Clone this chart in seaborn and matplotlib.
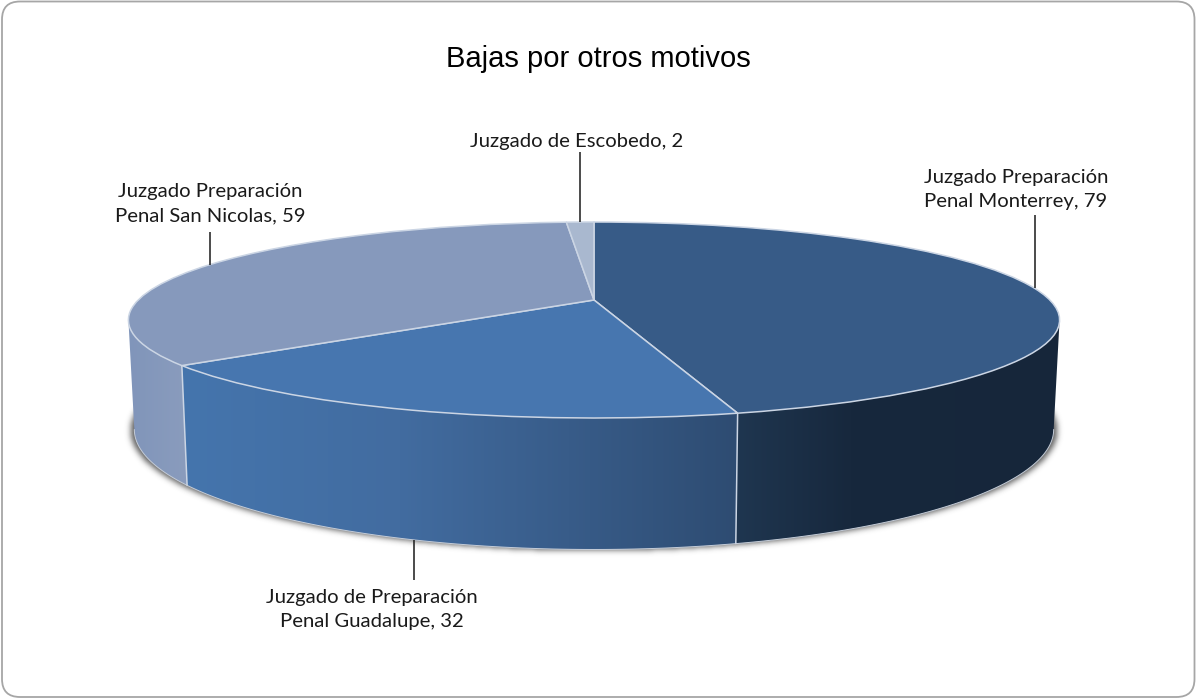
import numpy as np
import matplotlib
matplotlib.use("Agg")
import matplotlib.pyplot as plt
import seaborn as sns
from matplotlib.patches import FancyBboxPatch, Polygon
from matplotlib.path import Path
from matplotlib.transforms import Transform

# ---- data ----
categories = ["Juzgado Preparación\nPenal Monterrey", "Juzgado de Preparación\nPenal Guadalupe",
              "Juzgado Preparación\nPenal San Nicolas", "Juzgado de Escobedo"]
values = [79, 32, 59, 2]
top_colors = ["#375B87", "#4776AF", "#8699BC", "#A9B8CF"]
title = "Bajas por otros motivos"

# ---- style / layout (pixels) ----
W, H = 1197, 699
EDGE = "#CBD5E4"
CX, TOP_CY, TOP_SX, TOP_SY = 594.0, 300.0, 455.8, 93.9
BOT_CY, BOT_SX, BOT_SY = 405.0, 450.0, 115.0
K = 0.204
wall_stops = {
    0: ([737, 850, 1060], ["#1F3650", "#17283D", "#16263A"]),
    1: ([182, 400, 737], ["#4575AD", "#426CA0", "#2E4C72"]),
    2: ([129, 187], ["#8095BA", "#8A9CBD"]),
}
label_pos = [(1016, 189, 215, "top"), (372, 609.5, 580, "bottom"),
             (210, 204, 232, "top"), (577, 141, 152, "top")]

sns.set_theme(style="white")
plt.rcParams["font.family"] = ["Lato", "DejaVu Sans"]


class Perspective(Transform):
    """Maps the unit-circle pie to a tilted disc, in pixel coordinates."""
    input_dims = output_dims = 2
    is_separable = False
    has_inverse = False

    def __init__(self, cy, sx, sy):
        super().__init__()
        self.cy, self.sx, self.sy = cy, sx, sy

    def transform_non_affine(self, v):
        v = np.asarray(v, float)
        w = 1 + K * v[:, 1]
        return np.column_stack([CX + self.sx * v[:, 0] / w, self.cy - self.sy * v[:, 1] / w])


top = Perspective(TOP_CY, TOP_SX, TOP_SY)
bottom = Perspective(BOT_CY, BOT_SX, BOT_SY)


def unit(deg_ccw):
    t = np.radians(deg_ccw)
    return np.column_stack([np.cos(t), np.sin(t)])


fig = plt.figure(figsize=(W / 100, H / 100), dpi=100, facecolor="white")
ax = fig.add_axes([0, 0, 1, 1])

wedges, _ = ax.pie(values, startangle=90, counterclock=False, radius=1, frame=False,
                   colors=top_colors, wedgeprops=dict(edgecolor=EDGE, linewidth=1.1, zorder=5))
for w in wedges:
    w.set_transform(top + ax.transData)

# visible wall range: between the silhouette points of the disc
limit = np.degrees(np.arcsin(K))      # angles below horizontal
vis_hi, vis_lo = -limit, -180 + limit

# soft shadow under the disc: a blurred copy of the lower rim
t_all = np.linspace(vis_hi + 14, vis_lo - 14, 300)
ring = bottom.transform_non_affine(unit(t_all))
ring[:, 0] = CX + (ring[:, 0] - CX) * 1.008
ring[:, 1] += 1.0
gx, gy = np.meshgrid(np.arange(W) + 0.5, np.arange(H) + 0.5)
mask = Path(ring).contains_points(np.column_stack([gx.ravel(), gy.ravel()])).reshape(H, W).astype(float)
kern = np.exp(-0.5 * (np.arange(-9, 10) / 3.0) ** 2)
kern /= kern.sum()
mask = np.apply_along_axis(lambda r: np.convolve(r, kern, mode="same"), 1, mask)
mask = np.apply_along_axis(lambda r: np.convolve(r, kern, mode="same"), 0, mask)
shadow = np.zeros((H, W, 4))
shadow[..., :3] = 0.2
shadow[..., 3] = mask * 0.8
ax.imshow(shadow, extent=(0, W, H, 0), aspect="auto", zorder=1, interpolation="nearest")

# side walls, one per visible slice
for i, w in enumerate(wedges):
    hi, lo = w.theta2, w.theta1      # wedge angles, ccw degrees
    a, b = min(hi, vis_hi), max(lo, vis_lo)
    if i in wall_stops and a > b:
        t = np.linspace(a, b, 120)
        upper = top.transform_non_affine(unit(t))
        lower = bottom.transform_non_affine(unit(t))
        outline = np.vstack([upper, lower[::-1]])
        poly = Polygon(outline, closed=True, fc="none", ec="none", transform=ax.transData)
        ax.add_patch(poly)
        x0, x1 = outline[:, 0].min(), outline[:, 0].max()
        y0, y1 = outline[:, 1].min(), outline[:, 1].max()
        xs = np.linspace(x0, x1, 400)
        stops_x, stops_c = wall_stops[i]
        rgb = np.array([matplotlib.colors.to_rgb(c) for c in stops_c])
        grad = np.stack([np.interp(xs, stops_x, rgb[:, k]) for k in range(3)], axis=-1)[None, :, :]
        im = ax.imshow(grad, extent=(x0, x1, y1, y0), aspect="auto", zorder=2, interpolation="bilinear")
        im.set_clip_path(poly)
        # bottom rim
        ax.plot(lower[:, 0], lower[:, 1], color="#C4CCD8", lw=0.7, zorder=3)
        # seam between slices
        if hi > vis_lo and lo > vis_lo:
            ax.plot([upper[-1, 0], lower[-1, 0]], [upper[-1, 1], lower[-1, 1]], color=EDGE, lw=1.1, zorder=4)

# leader lines and labels, anchored at each slice's mid angle
for i, (w, name, v) in enumerate(zip(wedges, categories, values)):
    mid = (w.theta1 + w.theta2) / 2
    rim = bottom if i == 1 else top
    ax0, ay0 = rim.transform_non_affine(unit(np.array([mid])))[0]
    tx, ty, end_y, _ = label_pos[i]
    ax.plot([ax0, ax0], [ay0, end_y], color="#1A1A1A", lw=1.1, zorder=6, solid_capstyle="butt")
    ax.text(tx, ty, f"{name}, {v}", ha="center", va="center", fontsize=14.6,
            color="#1A1A1A", linespacing=1.5, zorder=7)

ax.text(598, 59, title, ha="center", va="center", fontsize=21,
        family="Liberation Sans", color="#000000")

ax.add_patch(FancyBboxPatch((2, 1.5), W - 4.5, H - 3.5, boxstyle="round,pad=0,rounding_size=18",
                            fc="none", ec="#A6A6A6", lw=1.3, zorder=8))

ax.set_aspect("auto")
ax.set_xlim(0, W)
ax.set_ylim(H, 0)
ax.axis("off")
fig.savefig("out.png", dpi=100, facecolor="white")
